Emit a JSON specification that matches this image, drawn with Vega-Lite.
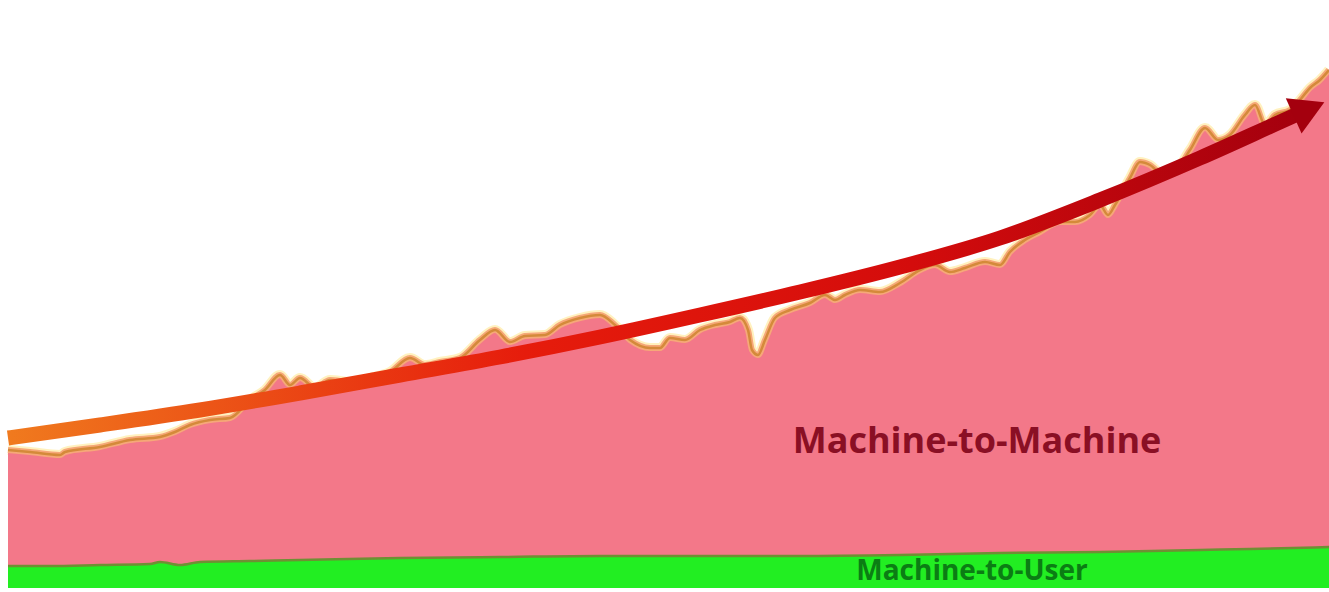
{
  "$schema": "https://vega.github.io/schema/vega-lite/v6.json",
  "width": 1321,
  "height": 588,
  "autosize": {"type": "none"},
  "padding": {"left": 8, "right": 0, "top": 0, "bottom": 4},
  "background": "#ffffff",
  "config": {"view": {"stroke": null}},
  "datasets": {
    "m2m": [
      {"x": 8, "v": 138}, {"x": 30, "v": 136}, {"x": 60, "v": 133}, {"x": 65, "v": 136},
      {"x": 100, "v": 141}, {"x": 130, "v": 148}, {"x": 160, "v": 151}, {"x": 175, "v": 156},
      {"x": 190, "v": 163}, {"x": 210, "v": 168}, {"x": 230, "v": 170}, {"x": 250, "v": 188},
      {"x": 265, "v": 198}, {"x": 280, "v": 213}, {"x": 290, "v": 203}, {"x": 300, "v": 210},
      {"x": 315, "v": 200}, {"x": 330, "v": 208}, {"x": 350, "v": 206}, {"x": 370, "v": 210},
      {"x": 390, "v": 216}, {"x": 410, "v": 230}, {"x": 425, "v": 223}, {"x": 440, "v": 226},
      {"x": 460, "v": 230}, {"x": 480, "v": 248}, {"x": 495, "v": 258}, {"x": 510, "v": 246},
      {"x": 525, "v": 252}, {"x": 545, "v": 253}, {"x": 560, "v": 263}, {"x": 580, "v": 270},
      {"x": 600, "v": 273}, {"x": 615, "v": 263}, {"x": 630, "v": 248}, {"x": 650, "v": 240},
      {"x": 660, "v": 240}, {"x": 670, "v": 250}, {"x": 685, "v": 248}, {"x": 700, "v": 258},
      {"x": 715, "v": 263}, {"x": 730, "v": 266}, {"x": 740, "v": 270}, {"x": 748, "v": 258},
      {"x": 752, "v": 238}, {"x": 758, "v": 233}, {"x": 765, "v": 248}, {"x": 775, "v": 270},
      {"x": 790, "v": 278}, {"x": 810, "v": 285}, {"x": 825, "v": 293}, {"x": 835, "v": 288},
      {"x": 845, "v": 293}, {"x": 860, "v": 298}, {"x": 880, "v": 296}, {"x": 900, "v": 305},
      {"x": 920, "v": 318}, {"x": 935, "v": 323}, {"x": 950, "v": 316}, {"x": 965, "v": 320},
      {"x": 985, "v": 326}, {"x": 1000, "v": 323}, {"x": 1010, "v": 336}, {"x": 1025, "v": 348},
      {"x": 1040, "v": 356}, {"x": 1060, "v": 366}, {"x": 1075, "v": 366}, {"x": 1090, "v": 373},
      {"x": 1100, "v": 383}, {"x": 1108, "v": 373}, {"x": 1115, "v": 383}, {"x": 1130, "v": 410},
      {"x": 1140, "v": 426}, {"x": 1150, "v": 423}, {"x": 1160, "v": 416}, {"x": 1175, "v": 418},
      {"x": 1190, "v": 438}, {"x": 1205, "v": 460}, {"x": 1218, "v": 448}, {"x": 1230, "v": 453},
      {"x": 1245, "v": 473}, {"x": 1255, "v": 483}, {"x": 1265, "v": 463}, {"x": 1275, "v": 473},
      {"x": 1290, "v": 478}, {"x": 1300, "v": 488}, {"x": 1310, "v": 500}, {"x": 1320, "v": 508},
      {"x": 1329, "v": 518}
    ],
    "m2u": [
      {"x": 8, "v": 22}, {"x": 50, "v": 22}, {"x": 100, "v": 23}, {"x": 150, "v": 24},
      {"x": 160, "v": 26}, {"x": 180, "v": 23}, {"x": 200, "v": 26}, {"x": 250, "v": 27},
      {"x": 300, "v": 28}, {"x": 400, "v": 30}, {"x": 500, "v": 31}, {"x": 600, "v": 32},
      {"x": 700, "v": 32}, {"x": 800, "v": 32}, {"x": 900, "v": 33}, {"x": 1000, "v": 35},
      {"x": 1100, "v": 36}, {"x": 1200, "v": 38}, {"x": 1250, "v": 39}, {"x": 1329, "v": 41}
    ],
    "trend": [
      {"x": 8, "v": 150}, {"x": 100, "v": 163}, {"x": 200, "v": 178}, {"x": 300, "v": 195},
      {"x": 400, "v": 213}, {"x": 500, "v": 231}, {"x": 600, "v": 251}, {"x": 700, "v": 273},
      {"x": 800, "v": 296}, {"x": 900, "v": 321}, {"x": 1000, "v": 350}, {"x": 1100, "v": 388},
      {"x": 1200, "v": 430}, {"x": 1280, "v": 466}, {"x": 1300, "v": 475}
    ]
  },
  "layer": [
    {
      "data": {"name": "m2m"},
      "mark": {"type": "line", "stroke": "#fff0b8", "strokeWidth": 10, "interpolate": "monotone", "opacity": 0.9},
      "encoding": {
        "x": {"field": "x", "type": "quantitative", "scale": {"domain": [8, 1329], "nice": false, "zero": false}, "axis": null},
        "y": {"field": "v", "type": "quantitative", "scale": {"domain": [0, 588], "nice": false}, "axis": null}
      }
    },
    {
      "data": {"name": "m2m"},
      "mark": {"type": "area", "color": "#f37889", "interpolate": "monotone", "opacity": 1},
      "encoding": {
        "x": {"field": "x", "type": "quantitative"},
        "y": {"field": "v", "type": "quantitative"}
      }
    },
    {
      "data": {"name": "m2m"},
      "mark": {"type": "line", "stroke": "#f6a878", "strokeWidth": 6, "interpolate": "monotone"},
      "encoding": {
        "x": {"field": "x", "type": "quantitative"},
        "y": {"field": "v", "type": "quantitative"}
      }
    },
    {
      "data": {"name": "m2m"},
      "mark": {"type": "line", "stroke": "#d48a3a", "strokeWidth": 2.5, "interpolate": "monotone"},
      "encoding": {
        "x": {"field": "x", "type": "quantitative"},
        "y": {"field": "v", "type": "quantitative"}
      }
    },
    {
      "data": {"name": "m2u"},
      "mark": {"type": "area", "color": "#22ee22", "interpolate": "monotone", "opacity": 1},
      "encoding": {
        "x": {"field": "x", "type": "quantitative"},
        "y": {"field": "v", "type": "quantitative"}
      }
    },
    {
      "data": {"name": "m2u"},
      "mark": {"type": "line", "stroke": "#6f8f34", "strokeWidth": 2.5, "interpolate": "monotone"},
      "encoding": {
        "x": {"field": "x", "type": "quantitative"},
        "y": {"field": "v", "type": "quantitative"}
      }
    },
    {
      "data": {"name": "trend"},
      "mark": {
        "type": "line",
        "strokeWidth": 15,
        "interpolate": "monotone",
        "strokeCap": "butt",
        "stroke": {
          "gradient": "linear", "x1": 0, "x2": 1, "y1": 0, "y2": 0,
          "stops": [
            {"offset": 0, "color": "#f07a1e"},
            {"offset": 0.4, "color": "#e61c0c"},
            {"offset": 0.7, "color": "#d40c0c"},
            {"offset": 1, "color": "#a4000e"}
          ]
        }
      },
      "encoding": {
        "x": {"field": "x", "type": "quantitative"},
        "y": {"field": "v", "type": "quantitative"}
      }
    },
    {
      "data": {"values": [{"head": "arrow"}]},
      "mark": {"type": "point", "shape": "triangle-right", "filled": true, "color": "#a4000e", "size": 1500, "angle": -24, "opacity": 1},
      "encoding": {
        "x": {"datum": 1309},
        "y": {"datum": 479}
      }
    },
    {
      "data": {"values": [{"label": "Machine-to-Machine"}]},
      "mark": {"type": "text", "font": "Open Sans", "fontWeight": "bold", "fontSize": 36, "color": "#8a0f24", "align": "center", "baseline": "middle"},
      "encoding": {
        "x": {"datum": 977},
        "y": {"datum": 146},
        "text": {"field": "label"}
      }
    },
    {
      "data": {"values": [{"label": "Machine-to-User"}]},
      "mark": {"type": "text", "font": "Open Sans", "fontWeight": "bold", "fontSize": 28, "color": "#0b7d14", "align": "center", "baseline": "middle"},
      "encoding": {
        "x": {"datum": 972},
        "y": {"datum": 16},
        "text": {"field": "label"}
      }
    }
  ]
}
